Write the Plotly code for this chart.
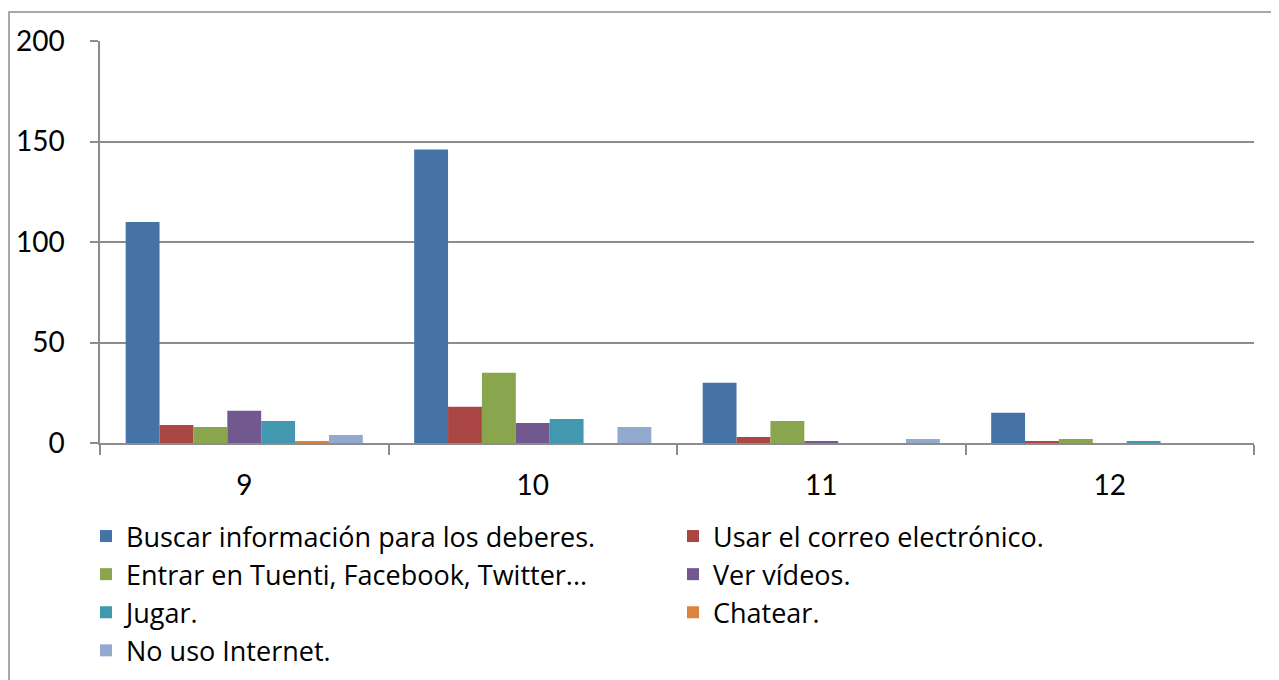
import plotly.graph_objects as go

categories = ["9", "10", "11", "12"]
series_names = [
    "Buscar información para los deberes.",
    "Usar el correo electrónico.",
    "Entrar en Tuenti, Facebook, Twitter...",
    "Ver vídeos.",
    "Jugar.",
    "Chatear.",
    "No uso Internet.",
]
buscar = [110, 146, 30, 15]
correo = [9, 18, 3, 1]
redes = [8, 35, 11, 2]
videos = [16, 10, 1, 0]
jugar = [11, 12, 0, 1]
chatear = [1, 0, 0, 0]
no_uso = [4, 8, 2, 0]
series_values = [buscar, correo, redes, videos, jugar, chatear, no_uso]
colors = ["#4572A7", "#AA4643", "#89A54E", "#71588F", "#4198AF", "#DB843D", "#93A9CF"]
y_ticks = [0, 50, 100, 150, 200]

fig = go.Figure()
for name, vals, col in zip(series_names, series_values, colors):
    fig.add_trace(go.Bar(x=categories, y=vals, name=name, marker_color=col,
                         marker_line_width=0))

# page body has an 8px margin; figure coords = screen coords - 8
OFF = 8
W, H = 1279, 680
L = 100 - OFF
T = 41 - OFF
R = W - (1254 - OFF)
B = H - (443 - OFF)
pw = W - L - R
ph = H - T - B

def px_to_paper_x(px):
    return (px - OFF - L) / pw

def px_to_paper_y(py):
    return (H - B - (py - OFF)) / ph

fig.update_layout(
    width=W, height=H,
    margin=dict(l=L, r=R, t=T, b=B, autoexpand=False),
    paper_bgcolor="white", plot_bgcolor="white",
    barmode="group", bargap=0.178, bargroupgap=0,
    font=dict(family="Lato", color="black"),
    showlegend=True,
    legend=dict(
        orientation="h",
        x=px_to_paper_x(86), xanchor="left",
        y=px_to_paper_y(512), yanchor="top",
        entrywidth=542, entrywidthmode="pixels",
        font=dict(family="Open Sans", size=27, color="black"),
        traceorder="normal",
        itemwidth=30,
    ),
    xaxis=dict(
        showgrid=False, showline=True, linecolor="#8C8C8C", linewidth=1.5,
        ticks="outside", tickson="boundaries", ticklen=10, tickcolor="#8C8C8C",
        tickwidth=1.5,
        tickfont=dict(family="Lato", size=28, color="black"),
        ticklabelstandoff=17,
    ),
    yaxis=dict(
        range=[0, 200], tickvals=y_ticks, showgrid=True, gridcolor="#8C8C8C",
        gridwidth=1.5, showline=True, linecolor="#8C8C8C", linewidth=1.5,
        ticks="outside", ticklen=8, tickcolor="#8C8C8C", tickwidth=1.5,
        tickfont=dict(family="Lato", size=28, color="black"),
        ticklabelstandoff=20, zeroline=False,
    ),
    shapes=[dict(
        type="rect", xref="paper", yref="paper",
        x0=px_to_paper_x(9), x1=px_to_paper_x(1300),
        y0=px_to_paper_y(720), y1=px_to_paper_y(12),
        line=dict(color="#8C8C8C", width=1.5), fillcolor="rgba(0,0,0,0)",
        layer="below",
    )],
)

fig.write_html("out.html")
